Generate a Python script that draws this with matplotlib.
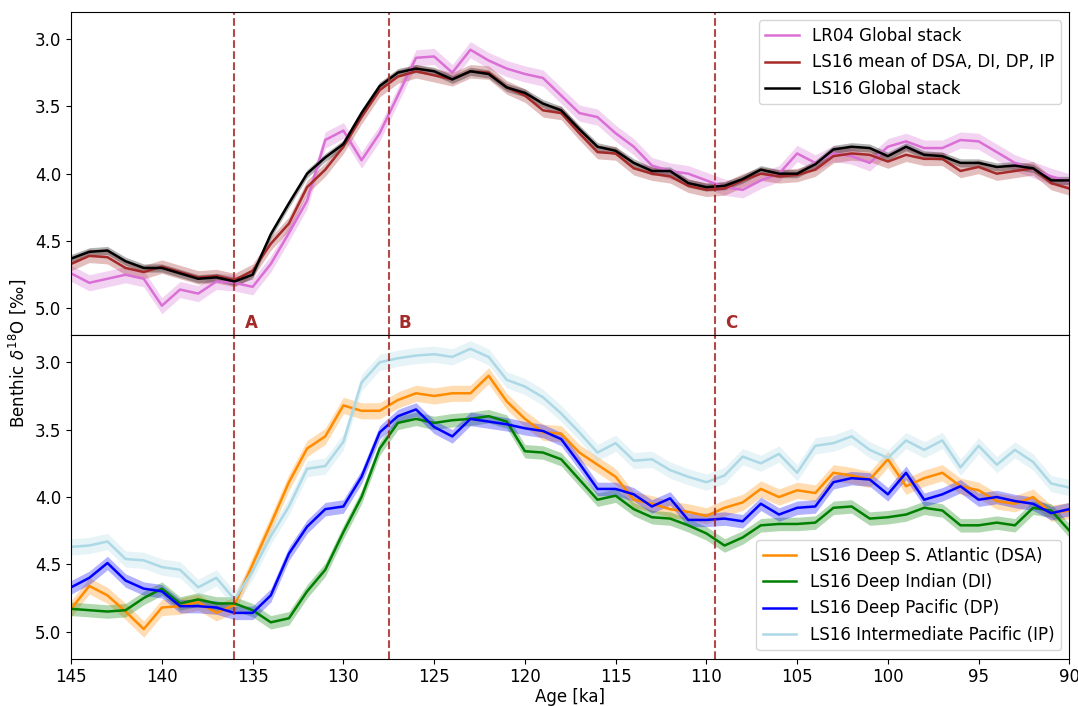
import matplotlib
matplotlib.use("Agg")
import matplotlib.pyplot as plt
import numpy as np

plt.rcParams['font.size'] = 12

# age grid [ka], 1 ka steps from 145 to 90
age = np.arange(145, 89, -1)

# top panel
lr04 = [4.74, 4.81, 4.78, 4.75, 4.78, 4.98, 4.86, 4.89, 4.80, 4.81,
        4.84, 4.67, 4.44, 4.20, 3.75, 3.68, 3.90, 3.70, 3.42, 3.14,
        3.13, 3.25, 3.08, 3.16, 3.22, 3.26, 3.29, 3.42, 3.55, 3.58,
        3.70, 3.80, 3.94, 3.98, 4.00, 4.05, 4.10, 4.12, 4.05, 4.00,
        3.85, 3.92, 3.85, 3.87, 3.92, 3.80, 3.76, 3.81, 3.81, 3.75,
        3.76, 3.84, 3.92, 3.97, 4.02, 4.06]
ls16_mean = [4.67, 4.61, 4.62, 4.70, 4.73, 4.69, 4.73, 4.77, 4.76, 4.79,
             4.72, 4.52, 4.37, 4.10, 3.97, 3.80, 3.58, 3.38, 3.28, 3.24,
             3.27, 3.30, 3.24, 3.25, 3.36, 3.42, 3.53, 3.55, 3.70, 3.84,
             3.85, 3.96, 4.00, 4.02, 4.09, 4.12, 4.11, 4.05, 4.00, 4.02,
             4.01, 3.97, 3.87, 3.85, 3.86, 3.91, 3.86, 3.89, 3.89, 3.98,
             3.95, 4.00, 3.98, 3.96, 4.07, 4.11]
ls16_global = [4.63, 4.58, 4.57, 4.65, 4.70, 4.70, 4.74, 4.78, 4.77, 4.80,
               4.75, 4.45, 4.22, 4.00, 3.88, 3.78, 3.55, 3.35, 3.25, 3.22,
               3.24, 3.30, 3.24, 3.26, 3.36, 3.40, 3.48, 3.53, 3.67, 3.80,
               3.83, 3.92, 3.98, 3.98, 4.07, 4.10, 4.09, 4.04, 3.97, 4.00,
               4.00, 3.93, 3.82, 3.80, 3.81, 3.87, 3.80, 3.86, 3.87, 3.92,
               3.92, 3.95, 3.94, 3.96, 4.05, 4.05]

# bottom panel
dsa = [4.83, 4.66, 4.73, 4.85, 4.98, 4.82, 4.81, 4.78, 4.86, 4.80,
       4.50, 4.20, 3.89, 3.64, 3.55, 3.32, 3.36, 3.36, 3.28, 3.23,
       3.25, 3.23, 3.23, 3.10, 3.29, 3.42, 3.52, 3.53, 3.67, 3.76,
       3.85, 4.02, 4.05, 4.09, 4.11, 4.14, 4.08, 4.04, 3.94, 4.00,
       3.95, 3.97, 3.82, 3.84, 3.87, 3.72, 3.92, 3.86, 3.82, 3.92,
       3.95, 4.03, 4.05, 4.00, 4.12, 4.10]
di = [4.83, 4.84, 4.85, 4.84, 4.75, 4.68, 4.79, 4.76, 4.79, 4.79,
      4.84, 4.93, 4.90, 4.70, 4.54, 4.26, 4.00, 3.64, 3.45, 3.42,
      3.45, 3.43, 3.42, 3.40, 3.44, 3.66, 3.67, 3.72, 3.87, 4.02,
      3.99, 4.09, 4.15, 4.16, 4.21, 4.27, 4.36, 4.30, 4.21, 4.20,
      4.20, 4.19, 4.08, 4.07, 4.16, 4.15, 4.13, 4.08, 4.10, 4.21,
      4.21, 4.19, 4.21, 4.08, 4.10, 4.25]
dp = [4.67, 4.60, 4.49, 4.62, 4.68, 4.70, 4.81, 4.81, 4.82, 4.86,
      4.86, 4.73, 4.42, 4.22, 4.09, 4.07, 3.85, 3.52, 3.40, 3.35,
      3.48, 3.55, 3.42, 3.44, 3.46, 3.49, 3.51, 3.57, 3.75, 3.94,
      3.94, 3.98, 4.07, 4.01, 4.17, 4.17, 4.16, 4.18, 4.05, 4.13,
      4.08, 4.07, 3.89, 3.86, 3.87, 3.98, 3.82, 4.02, 3.98, 3.92,
      4.02, 4.00, 4.03, 4.05, 4.12, 4.09]
ip = [4.37, 4.36, 4.33, 4.46, 4.47, 4.52, 4.54, 4.67, 4.60, 4.76,
      4.55, 4.29, 4.07, 3.79, 3.77, 3.59, 3.15, 3.00, 2.97, 2.95,
      2.94, 2.96, 2.90, 2.96, 3.13, 3.18, 3.26, 3.38, 3.52, 3.67,
      3.60, 3.73, 3.72, 3.80, 3.85, 3.89, 3.84, 3.70, 3.75, 3.68,
      3.82, 3.62, 3.60, 3.55, 3.65, 3.71, 3.58, 3.65, 3.58, 3.78,
      3.62, 3.76, 3.65, 3.74, 3.90, 3.93]

# 1-sigma band half widths
sig_lr04, sig_mean, sig_global = 0.06, 0.05, 0.03
sig_dsa, sig_di, sig_dp, sig_ip = 0.06, 0.05, 0.05, 0.06

events = [136.0, 127.5, 109.5]
event_labels = ['A', 'B', 'C']

fig, (ax1, ax2) = plt.subplots(2, 1, sharex=True, figsize=(10.78, 7.06), dpi=100)
fig.subplots_adjust(left=0.066, right=0.992, top=0.983, bottom=0.067, hspace=0)


def band(ax, y, s, color, label):
    y = np.array(y)
    ax.fill_between(age, y - s, y + s, color=color, alpha=0.3, lw=0)
    ax.plot(age, y, color=color, lw=1.8, label=label)


band(ax1, lr04, sig_lr04, 'orchid', 'LR04 Global stack')
band(ax1, ls16_mean, sig_mean, 'brown', 'LS16 mean of DSA, DI, DP, IP')
band(ax1, ls16_global, sig_global, 'black', 'LS16 Global stack')

band(ax2, dsa, sig_dsa, 'darkorange', 'LS16 Deep S. Atlantic (DSA)')
band(ax2, di, sig_di, 'green', 'LS16 Deep Indian (DI)')
band(ax2, dp, sig_dp, 'blue', 'LS16 Deep Pacific (DP)')
band(ax2, ip, sig_ip, 'lightblue', 'LS16 Intermediate Pacific (IP)')

for ax in (ax1, ax2):
    for ev in events:
        ax.axvline(ev, color='brown', ls='--', lw=1.5, alpha=0.85)
    ax.set_ylim(5.2, 2.8)
    ax.set_yticks([3.0, 3.5, 4.0, 4.5, 5.0])

for ev, lab in zip(events, event_labels):
    ax1.text(ev - 0.55, 5.11, lab, color='brown', fontweight='bold',
             ha='left', va='center')

ax1.tick_params(axis='x', bottom=False)
ax2.set_xlim(145, 90)
ax2.set_xticks(np.arange(145, 89, -5))
ax2.set_xlabel('Age [ka]', labelpad=1)
fig.text(0.016, 0.5, r'Benthic $\delta^{18}$O [‰]', rotation=90,
         va='center', ha='center')

ax1.legend(loc='upper right')
ax2.legend(loc='lower right')

fig.savefig('out.png', dpi=100)
